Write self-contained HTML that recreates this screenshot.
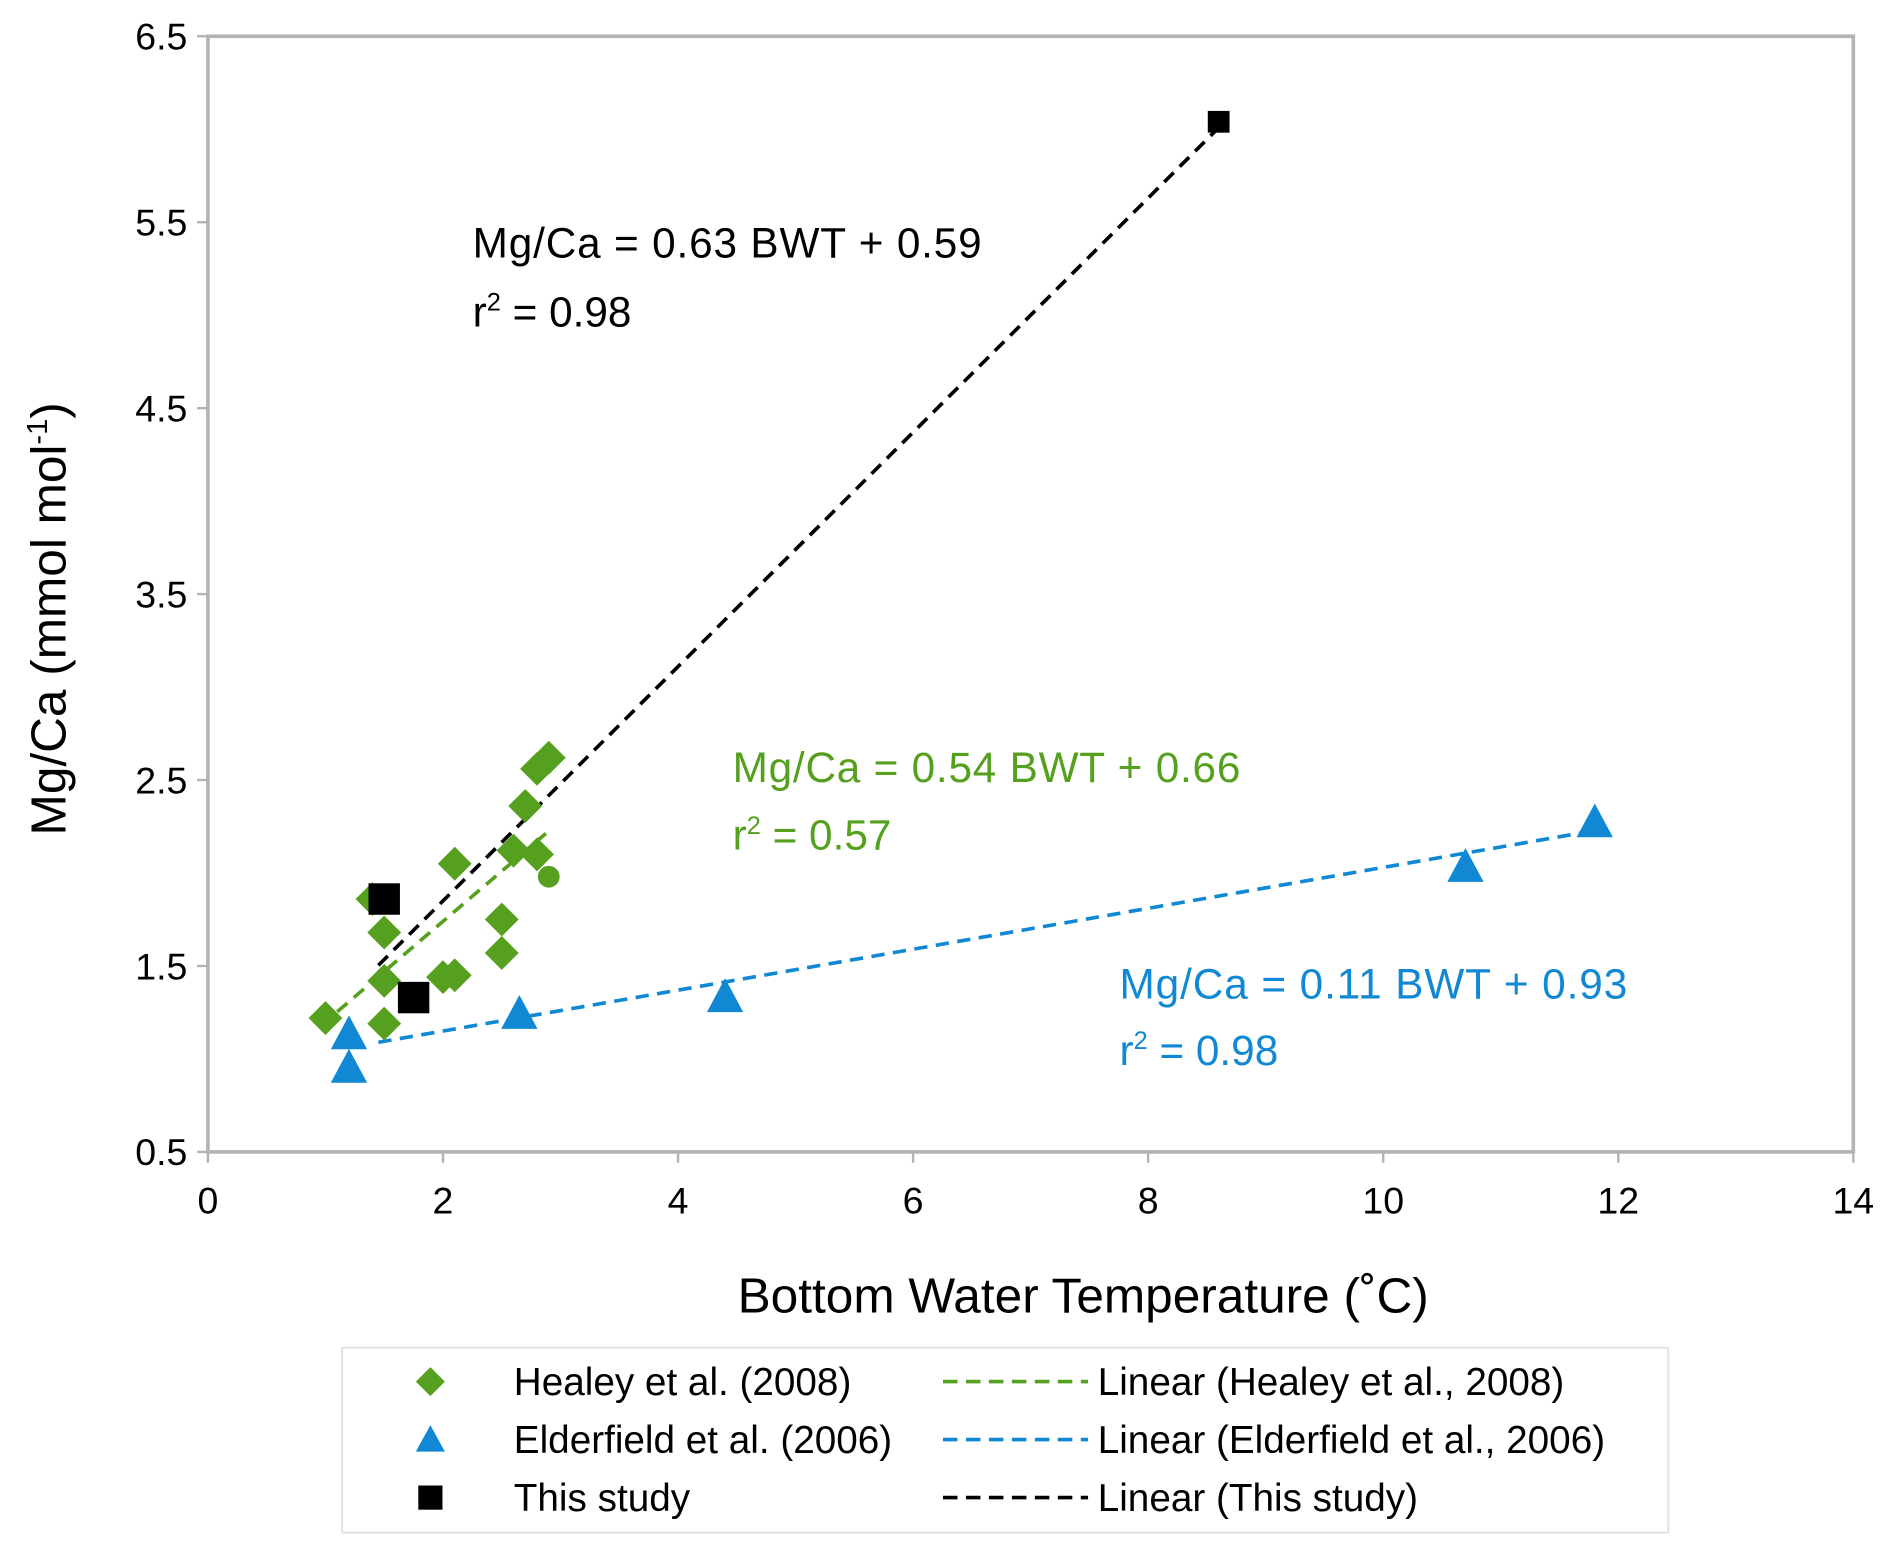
<!DOCTYPE html>
<html><head><meta charset="utf-8"><style>
html,body{margin:0;padding:0;background:#fff;}
svg{display:block;font-family:"Liberation Sans",Arial,sans-serif;}
</style></head><body>
<svg id="chart" width="1892" height="1552" viewBox="0 0 1565 1284" preserveAspectRatio="none" xmlns="http://www.w3.org/2000/svg">
<rect x="172" y="30" width="1361" height="923" fill="#fff" stroke="#b3b3b3" stroke-width="3"/>
<g id="axes"></g>
<g id="lines"></g>
<g id="marks"></g>
<text x="54" y="512" transform="rotate(-90 54 512)" text-anchor="middle" font-size="41" fill="#000">Mg/Ca (mmol mol<tspan dy="-15" font-size="24">-1</tspan><tspan dy="15">)</tspan></text>
<text x="896" y="1086" text-anchor="middle" font-size="41" fill="#000">Bottom Water Temperature (˚C)</text>
<g font-size="35" fill="#000">
<text x="391" y="213" textLength="421">Mg/Ca = 0.63 BWT + 0.59</text>
<text x="391" y="270">r<tspan dy="-13" font-size="21">2</tspan><tspan dy="13"> = 0.98</tspan></text></g>
<g font-size="35" fill="#55a01f">
<text x="606" y="647" textLength="420">Mg/Ca = 0.54 BWT + 0.66</text>
<text x="606" y="703">r<tspan dy="-13" font-size="21">2</tspan><tspan dy="13"> = 0.57</tspan></text></g>
<g font-size="35" fill="#1088d4">
<text x="926" y="826" textLength="420">Mg/Ca = 0.11 BWT + 0.93</text>
<text x="926" y="881">r<tspan dy="-13" font-size="21">2</tspan><tspan dy="13"> = 0.98</tspan></text></g>
<g>
<rect x="283" y="1115" width="1097" height="153" fill="#fff" stroke="#e0e0e0" stroke-width="1.5"/>
<g font-size="32" fill="#000">
<path d="M356 1131 L368 1143 L356 1155 L344 1143Z" fill="#55a01f"/>
<text x="425" y="1154">Healey et al. (2008)</text>
<path d="M356 1179 L368 1201 L344 1201Z" fill="#1088d4"/>
<text x="425" y="1202">Elderfield et al. (2006)</text>
<rect x="346" y="1229" width="20" height="20" fill="#000"/>
<text x="425" y="1250">This study</text>
<line x1="780" y1="1143" x2="900" y2="1143" stroke="#55a01f" stroke-width="3" stroke-dasharray="12 7"/>
<text x="908" y="1154">Linear (Healey et al., 2008)</text>
<line x1="780" y1="1191" x2="900" y2="1191" stroke="#1088d4" stroke-width="3" stroke-dasharray="12 7"/>
<text x="908" y="1202">Linear (Elderfield et al., 2006)</text>
<line x1="780" y1="1239" x2="900" y2="1239" stroke="#000" stroke-width="3" stroke-dasharray="12 7"/>
<text x="908" y="1250">Linear (This study)</text>
</g></g>
</svg>
<script>
const xTicks=[0,2,4,6,8,10,12,14];
const yTicks=[0.5,1.5,2.5,3.5,4.5,5.5,6.5];
const healeyX=[1.0,1.4,1.5,1.5,1.5,2.0,2.1,2.1,2.5,2.5,2.6,2.7,2.8,2.9,2.8];
const healeyY=[1.22,1.86,1.68,1.42,1.19,1.44,1.45,2.05,1.75,1.57,2.12,2.36,2.56,2.62,2.10];
const healeyCircleX=[2.9];
const healeyCircleY=[1.98];
const elderX=[1.2,1.2,2.65,4.4,10.7,11.8];
const elderY=[1.13,0.95,1.24,1.33,2.03,2.27];
const studyX=[1.5,1.75,8.6];
const studyY=[1.86,1.33,6.04];
const studySize=[26,26,18];
const fitHealey=[0.54,0.66,1.1,2.9];
const fitElder=[0.11,0.93,1.45,11.8];
const fitStudy=[0.63,0.59,1.45,8.6];
const NS="http://www.w3.org/2000/svg";
const X=v=>172+v*(1361/14);
const Y=v=>953-(v-0.5)*(923/6);
function mk(t,a,p){const e=document.createElementNS(NS,t);for(const k in a)e.setAttribute(k,a[k]);p.appendChild(e);return e;}
const axes=document.getElementById('axes'),lines=document.getElementById('lines'),marks=document.getElementById('marks');
xTicks.forEach(t=>{const e=mk('text',{x:X(t),y:1004,'text-anchor':'middle','font-size':31,fill:'#000'},axes);e.textContent=t;


const l=mk('line',{x1:X(t),x2:X(t),y1:953,y2:962,stroke:'#b3b3b3','stroke-width':2},axes);

});
yTicks.forEach(t=>{const e=mk('text',{x:155,y:Y(t)+11,'text-anchor':'end','font-size':31,fill:'#000'},axes);e.textContent=t.toFixed(1);


const l=mk('line',{x1:163,x2:172,y1:Y(t),y2:Y(t),stroke:'#b3b3b3','stroke-width':2},axes);

});
function fit(f,c,name){const l=mk('line',{x1:X(f[2]),y1:Y(f[0]*f[2]+f[1]),x2:X(f[3]),y2:Y(f[0]*f[3]+f[1]),stroke:c,'stroke-width':3,'stroke-dasharray':'11 7'},lines);

}
fit(fitHealey,'#55a01f','healey-trendline');
fit(fitElder,'#1088d4','elderfield-trendline');
fit(fitStudy,'#000','this-study-trendline');
healeyX.forEach((x,i)=>{const cx=X(x),cy=Y(healeyY[i]),r=14;
const p=mk('path',{d:`M${cx} ${cy-r}L${cx+r} ${cy}L${cx} ${cy+r}L${cx-r} ${cy}Z`,fill:'#55a01f'},marks);

});
healeyCircleX.forEach((x,i)=>{const c=mk('circle',{cx:X(x),cy:Y(healeyCircleY[i]),r:9,fill:'#55a01f'},marks);

});
studyX.forEach((x,i)=>{const s=studySize[i];const r=mk('rect',{x:X(x)-s/2,y:Y(studyY[i])-s/2,width:s,height:s,fill:'#000'},marks);

});
elderX.forEach((x,i)=>{const cx=X(x),cy=Y(elderY[i]);
const p=mk('path',{d:`M${cx} ${cy-16}L${cx+15} ${cy+12}L${cx-15} ${cy+12}Z`,fill:'#1088d4'},marks);

});
</script>
</body></html>
